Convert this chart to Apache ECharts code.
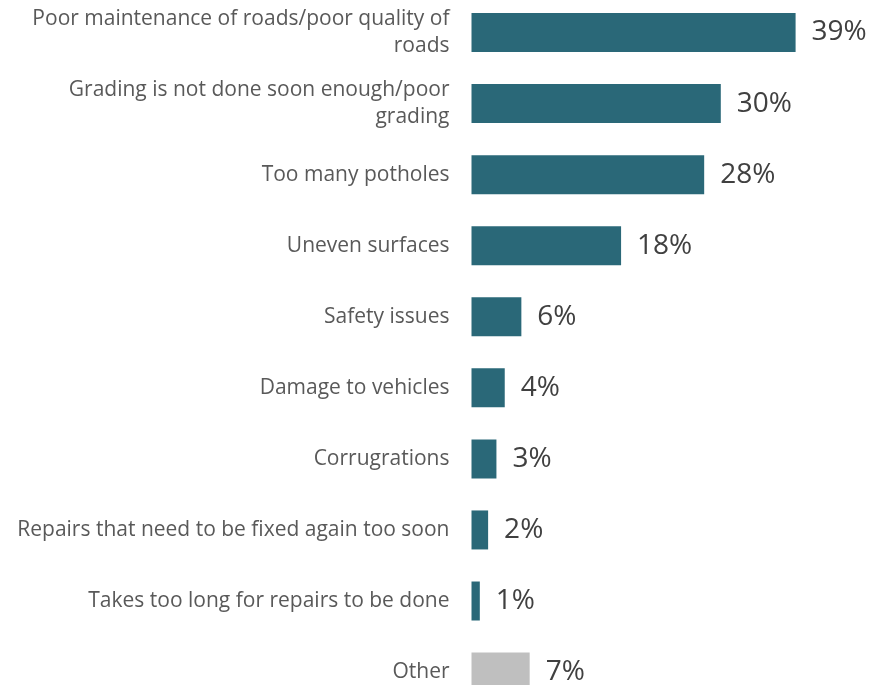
<!DOCTYPE html>
<html>
<head>
<meta charset="utf-8">
<script src="https://cdn.jsdelivr.net/npm/echarts@6/dist/echarts.min.js"></script>
<style>
  html, body { margin: 0; padding: 0; background: #ffffff; }
  #chart { width: 883px; height: 685px; }
</style>
</head>
<body>
<div id="chart"></div>
<script>
// Reasons given for dissatisfaction with roads (share of respondents, %)
const categories = [
  'Poor maintenance of roads/poor quality of\nroads',
  'Grading is not done soon enough/poor\ngrading',
  'Too many potholes',
  'Uneven surfaces',
  'Safety issues',
  'Damage to vehicles',
  'Corrugrations',
  'Repairs that need to be fixed again too soon',
  'Takes too long for repairs to be done',
  'Other'
];
const values = [39, 30, 28, 18, 6, 4, 3, 2, 1, 7];
const barColors = ['#2A6878', '#2A6878', '#2A6878', '#2A6878', '#2A6878',
                   '#2A6878', '#2A6878', '#2A6878', '#2A6878', '#BFBFBF'];

const chart = echarts.init(document.getElementById('chart'));
chart.setOption({
  animation: false,
  grid: {
    left: 471.5, top: -3, width: 415.5, height: 710.6,
    containLabel: false,
    outerBoundsMode: 'none'
  },
  xAxis: {
    type: 'value', min: 0, max: 50,
    show: false
  },
  yAxis: {
    type: 'category',
    inverse: true,
    data: categories,
    axisLine: { show: false },
    axisTick: { show: false },
    axisLabel: {
      margin: 22,
      color: '#595959',
      fontFamily: 'Open Sans',
      fontSize: 21,
      lineHeight: 27,
      align: 'right'
    }
  },
  series: [{
    type: 'bar',
    data: values.map((v, i) => ({ value: v, itemStyle: { color: barColors[i] } })),
    barWidth: 39,
    label: {
      show: true,
      position: 'right',
      distance: 16,
      formatter: '{c}%',
      color: '#404040',
      fontFamily: 'Open Sans',
      fontSize: 28
    }
  }]
});
</script>
</body>
</html>
